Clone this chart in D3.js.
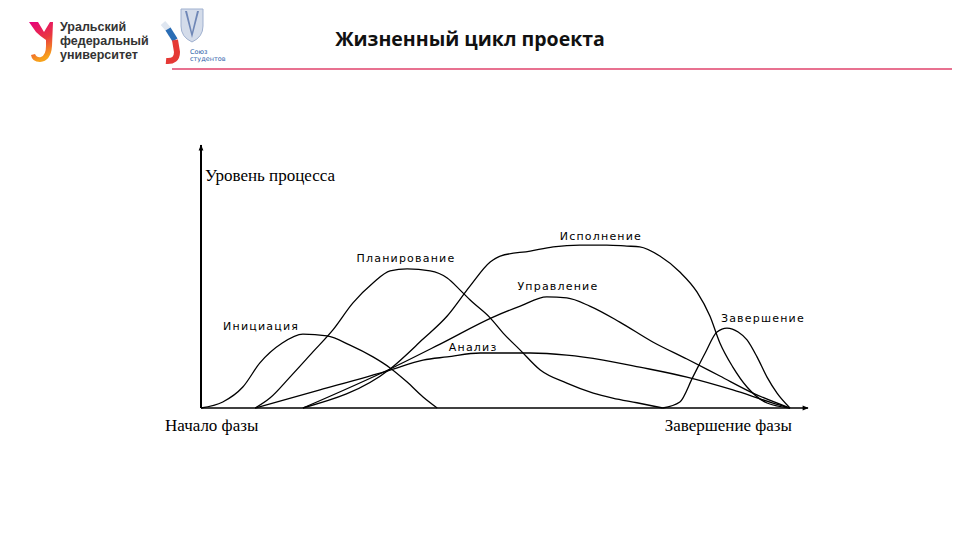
<!DOCTYPE html>
<html><head><meta charset="utf-8">
<script src="https://cdn.jsdelivr.net/npm/d3@7"></script>
<style>body{margin:0;background:#fff}svg{display:block}</style>
</head><body>
<svg id="c" width="960" height="540"></svg>
<script>
// ---- data (x: 0 = начало фазы, 100 = завершение фазы; y: уровень процесса, 0..100)
const phases = ["Инициация","Планирование","Исполнение","Управление","Анализ","Завершение"];
const initiationX = [0,3.7,7.1,10.0,13.8,17.3,21.4,25.3,29.2,32.1,35.0,37.7,40.1];
const initiationY = [0,2.3,8.0,17.2,24.8,28.2,27.5,24.0,19.5,15.3,9.9,4.2,0];
const planningX = [9.2,11.7,15.1,19.0,22.4,25.8,29.2,32.1,35.0,38.9,41.8,44.0,45.7,49.1,51.3,54.2,57.6,62.1,66.6,69.9,74.0,78.4];
const planningY = [0,3.8,11.8,21.4,29.8,40.1,47.7,52.3,53.1,52.3,49.6,45.0,41.2,34.4,28.6,22.1,14.5,9.5,5.7,3.8,2.0,0];
const executionX = [17.3,32.1,37.7,41.8,45.7,49.1,50.8,55.9,59.8,64.3,68.9,72.3,74.5,77.9,81.3,84.2,86.4,88.1,90.3,92.7,96.1,100];
const executionY = [0,14.9,26.3,35.1,46.6,55.7,58.0,59.9,61.5,62.2,62.2,61.8,61.5,58.0,51.9,44.3,35.1,24.8,15.6,8.0,1.9,0];
const controlX = [17.3,32.1,40.6,49.6,54.2,58.7,62.1,66.0,71.1,76.7,82.5,88.1,93.7,100];
const controlY = [0,14.9,24.4,34.7,38.9,42.4,42.0,38.9,32.8,25.2,18.7,12.2,5.7,0];
const analysisX = [9.2,20.2,32.1,37.7,41.8,47.4,51.3,55.9,62.1,68.3,74.5,82.5,90.3,97.1,100];
const analysisY = [0,6.9,14.5,18.3,19.5,21.0,21.0,21.0,20.2,18.3,15.6,11.8,6.9,1.9,0];
const closingX = [78.4,81.3,83.5,85.6,87.6,89.3,91.2,92.7,94.4,96.1,97.8,100];
const closingY = [0,2.3,11.8,21.0,29.0,30.5,29.0,26.0,19.5,11.8,5.7,0];
const axisLabels = ["Уровень процесса","Начало фазы","Завершение фазы"];
const title = "Жизненный цикл проекта";
const orgLines = ["Уральский","федеральный","университет"];
const unionLines = ["Союз","студентов"];

const seriesX = [initiationX, planningX, executionX, controlX, analysisX, closingX];
const seriesY = [initiationY, planningY, executionY, controlY, analysisY, closingY];

const svg = d3.select("#c");
const x = d3.scaleLinear().domain([0,100]).range([201,790]);
const y = d3.scaleLinear().domain([0,100]).range([408,146]);

// ---- header
const defs = svg.append("defs");
const hdr = svg.append("g");
// UrFU logo mark
const grad = defs.append("linearGradient").attr("id","lg").attr("x1","0").attr("y1","0").attr("x2","0.3").attr("y2","1");
grad.append("stop").attr("offset","0").attr("stop-color","#e6007e");
grad.append("stop").attr("offset","0.55").attr("stop-color","#e9383f");
grad.append("stop").attr("offset","1").attr("stop-color","#f7a21b");
hdr.append("path").attr("fill","url(#lg)")
  .attr("d","M29,22 L38,22 L44,32 L50,22 L53,22 L52,46 Q51,61 40,62 Q32,62 31,55 L35,54 Q37,58 41,57 Q46,55 46,46 L46,40 Q40,36 36,32 Z");
hdr.selectAll("text.org").data(orgLines).join("text").attr("class","org")
  .attr("x",60).attr("y",(d,i)=>31+i*14)
  .attr("font-family","Liberation Sans, Arial, sans-serif").attr("font-weight","bold")
  .attr("font-size",12.5).attr("fill","#333").text(d=>d);
// student union logo mark
hdr.append("path").attr("fill","none").attr("stroke","#dfe6f0").attr("stroke-width",6)
  .attr("d","M163,23 L169,30");
hdr.append("path").attr("fill","none").attr("stroke","#2a6db5").attr("stroke-width",6)
  .attr("d","M168,29 L175,40");
hdr.append("path").attr("fill","none").attr("stroke","#e53935").attr("stroke-width",6)
  .attr("d","M175,40 L177,52 Q177,62 166,61");
hdr.append("path").attr("fill","#d4dcea").attr("stroke","#9fb0cf").attr("stroke-width",1)
  .attr("d","M181,9 L203,9 L203,26 Q203,37 192,42 Q181,37 181,26 Z");
hdr.append("path").attr("fill","#6f87b6").attr("d","M187,11 L192,32 L197,11 L199,11 L192,38 L185,11 Z");
hdr.selectAll("text.un").data(unionLines).join("text").attr("class","un")
  .attr("x",190).attr("y",(d,i)=>54+i*7)
  .attr("font-family","DejaVu Sans, sans-serif").attr("font-size",6.5).attr("fill","#2a5ca8").text(d=>d);
hdr.append("text").attr("x",470).attr("y",46).attr("text-anchor","middle")
  .attr("font-family","Open Sans, Liberation Sans, sans-serif").attr("font-weight","bold")
  .attr("font-size",19.5).attr("fill","#111").text(title);
hdr.append("line").attr("x1",172).attr("x2",952).attr("y1",69).attr("y2",69)
  .attr("stroke","#e0426b").attr("stroke-width",1.5);

// ---- axes
defs.append("marker").attr("id","ar").attr("viewBox","0 0 10 10").attr("refX",9).attr("refY",5)
  .attr("markerWidth",7).attr("markerHeight",6).attr("orient","auto").attr("markerUnits","userSpaceOnUse")
  .append("path").attr("d","M0,1 L10,5 L0,9 Z").attr("fill","#000");
svg.append("line").attr("x1",x(0)).attr("y1",y(0)).attr("x2",x(0)).attr("y2",y(100)-1)
  .attr("stroke","#000").attr("stroke-width",2).attr("marker-end","url(#ar)");
svg.append("line").attr("x1",x(0)).attr("y1",y(0)).attr("x2",x(100)+18).attr("y2",y(0))
  .attr("stroke","#000").attr("stroke-width",1.6).attr("marker-end","url(#ar)");

// ---- curves
const line = d3.line().x(d=>x(d[0])).y(d=>y(d[1])).curve(d3.curveMonotoneX);
const seriesPts = seriesX.map((xs,i)=>xs.map((v,j)=>[v, seriesY[i][j]]));
svg.append("g").selectAll("path").data(seriesPts).join("path")
  .attr("d",line).attr("fill","none").attr("stroke","#000").attr("stroke-width",1.3);

// ---- curve labels (anchored in data space)
const labelAt = [[10.2,29.8],[34.8,55.7],[67.9,64.1],[60.6,45.0],[46.2,21.8],[95.4,32.8]];
svg.append("g").selectAll("text").data(phases).join("text")
  .attr("x",(d,i)=>x(labelAt[i][0])).attr("y",(d,i)=>y(labelAt[i][1]))
  .attr("text-anchor","middle").attr("font-family","DejaVu Sans, sans-serif")
  .attr("font-size",11).attr("letter-spacing","1.2px").attr("fill","#000").text(d=>d);

// ---- axis labels
const serif = "Liberation Serif, DejaVu Serif, serif";
svg.append("text").attr("x",x(0)+4).attr("y",181).attr("font-family",serif).attr("font-size",17).text(axisLabels[0]);
svg.append("text").attr("x",x(0)-36).attr("y",431).attr("font-family",serif).attr("font-size",17).text(axisLabels[1]);
svg.append("text").attr("x",x(100)+2).attr("y",431).attr("text-anchor","end").attr("font-family",serif).attr("font-size",17).text(axisLabels[2]);
</script>
</body></html>
